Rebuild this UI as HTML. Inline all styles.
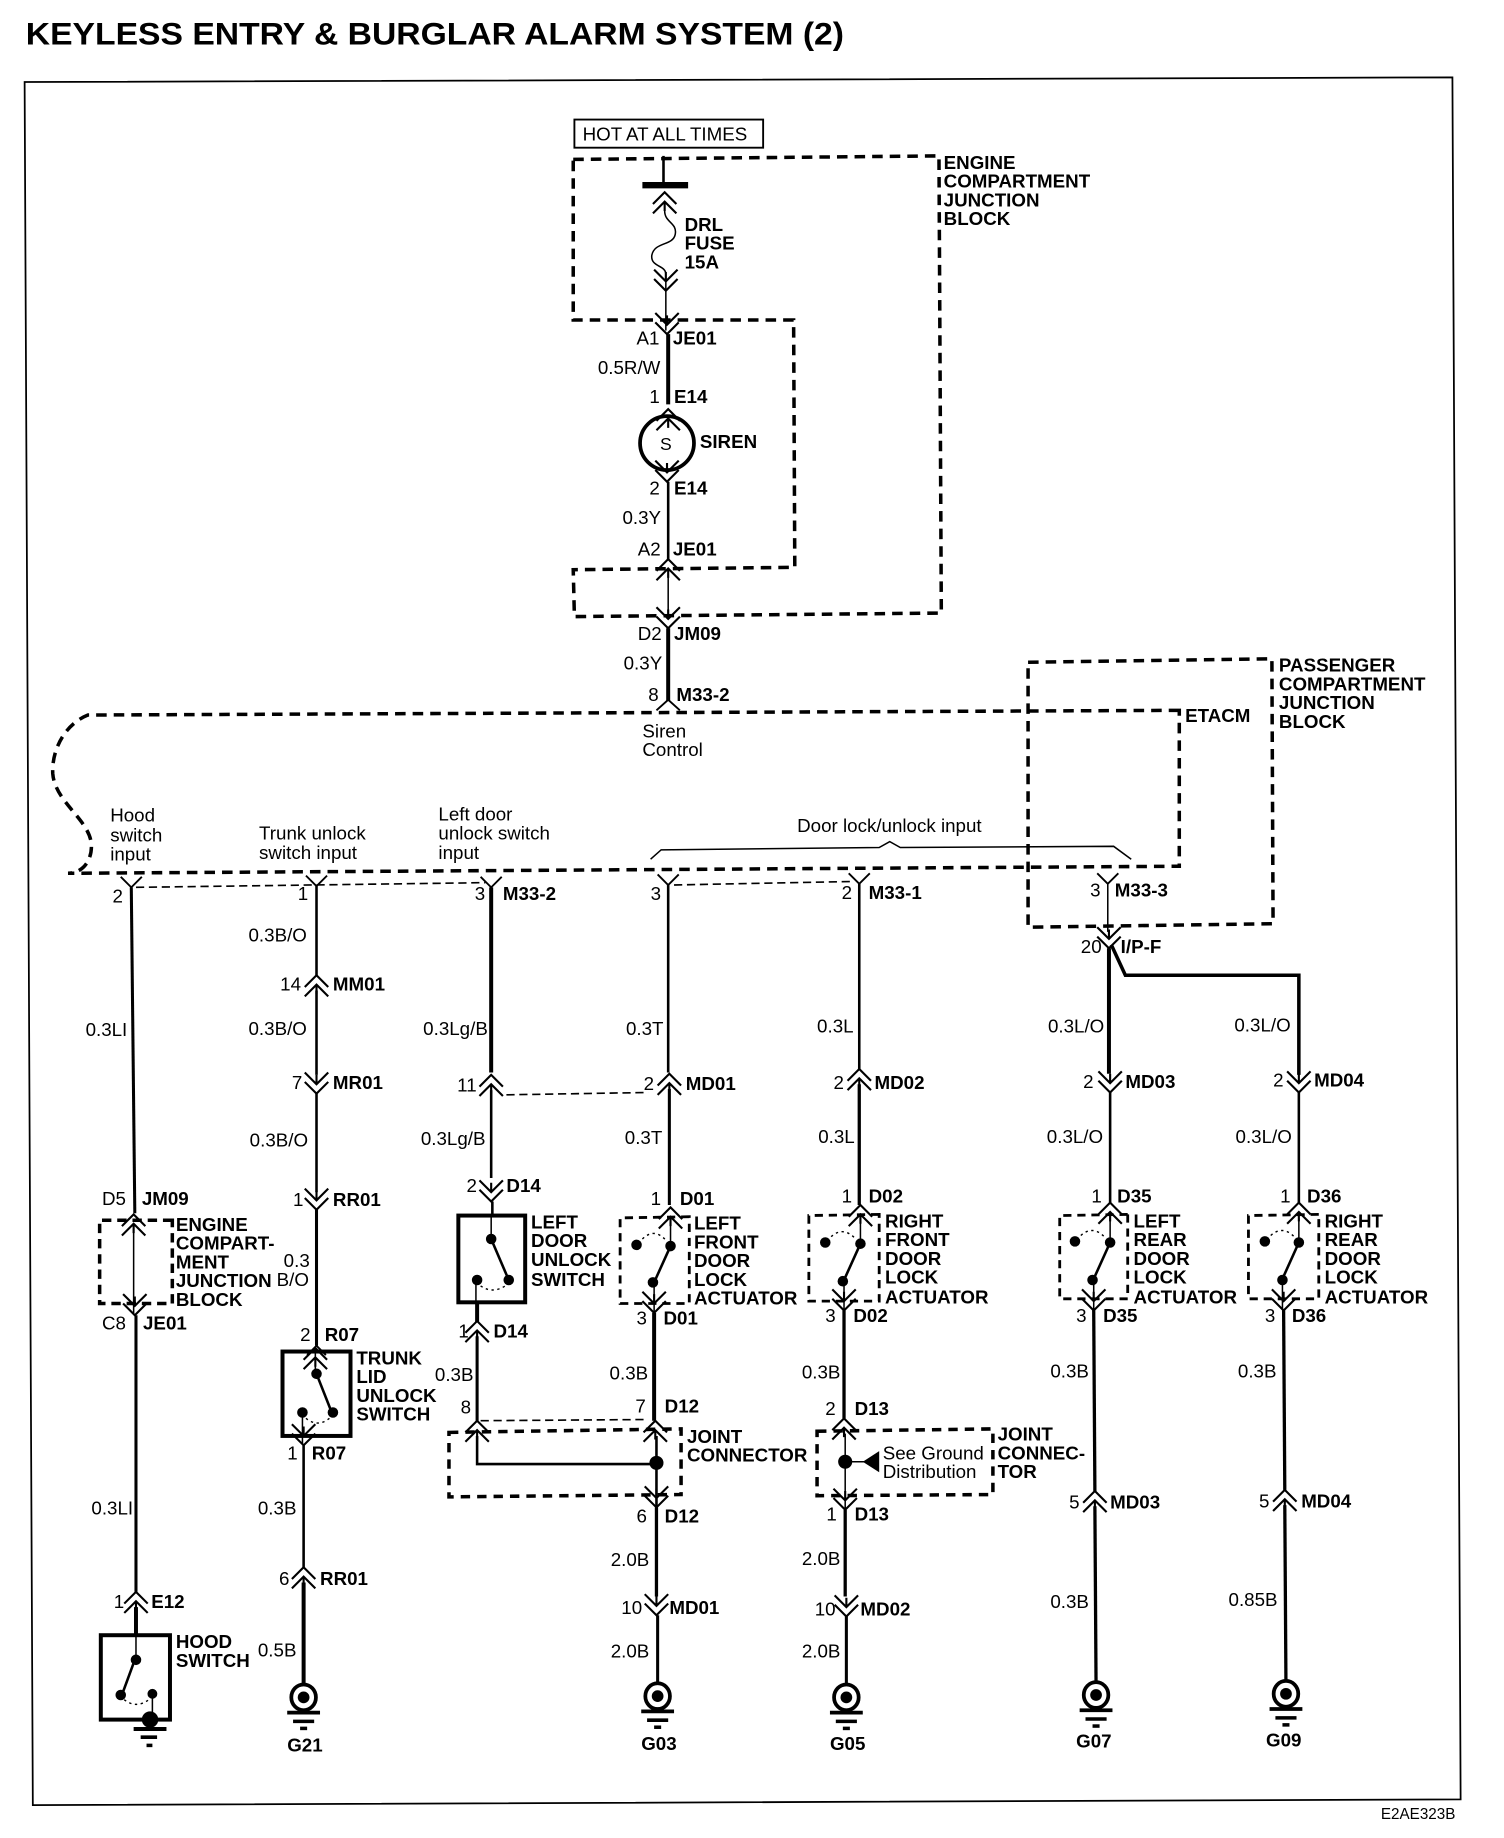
<!DOCTYPE html>
<html>
<head>
<meta charset="utf-8">
<title>Keyless Entry &amp; Burglar Alarm System (2)</title>
<style>
html,body{margin:0;padding:0;background:#fff}
svg{display:block}
text{font-family:"Liberation Sans",sans-serif;font-size:16px;fill:#000}
.b text,text.b{font-weight:bold}
.w{fill:none;stroke:#000;stroke-width:2.2}
.t{fill:none;stroke:#000;stroke-width:3.4}
.n{fill:none;stroke:#000;stroke-width:1.3}
.d{fill:none;stroke:#000;stroke-width:3;stroke-dasharray:9 6}
.f{fill:none;stroke:#000;stroke-width:1.4;stroke-dasharray:7 4}
.a{fill:none;stroke:#000;stroke-width:1.2;stroke-dasharray:2 3}
.bx{fill:none;stroke:#000;stroke-width:3.4}
</style>
</head>
<body>
<svg xmlns="http://www.w3.org/2000/svg" width="1504" height="1838" viewBox="0 0 1283 1568" preserveAspectRatio="none">
<defs>
<g id="u"><path d="M-10 10L0 0L10 10M-10 18L0 8L10 18M0 8V16" fill="none" stroke="#000" stroke-width="1.8"/></g>
<g id="v"><path d="M-10 -10L0 0L10 -10M-10 -18L0 -8L10 -18M0 -8V-16" fill="none" stroke="#000" stroke-width="1.8"/></g>
<g id="c"><path d="M-9 -9L0 0L9 -9" fill="none" stroke="#000" stroke-width="1.6"/></g>
<g id="gnd">
<ellipse cx="0" cy="0" rx="10.5" ry="11" fill="#fff" stroke="#000" stroke-width="3.2"/>
<circle cx="0" cy="0" r="5"/>
<path d="M-14 13H14" stroke="#000" stroke-width="3.2"/>
<path d="M-9 20.5H9" stroke="#000" stroke-width="3"/>
<path d="M-3 26.5H3" stroke="#000" stroke-width="3"/>
</g>
</defs>

<text x="22" y="38" class="b" style="font-size:27px" textLength="698" lengthAdjust="spacingAndGlyphs">KEYLESS ENTRY &amp; BURGLAR ALARM SYSTEM (2)</text>
<path d="M21 70L1239 66L1246 1535L28 1540Z" fill="none" stroke="#000" stroke-width="1.5"/>

<!-- top section -->
<rect x="490" y="102" width="161" height="24" fill="none" stroke="#000" stroke-width="1.6"/>
<text x="497" y="120">HOT AT ALL TIMES</text>
<path class="d" d="M489 136L801 133L803 523L490 526L489 486L678 484L677 273L489 273Z"/>
<path class="w" d="M566 133V158"/>
<path d="M548 158H587" stroke="#000" stroke-width="5.5"/>
<use href="#u" x="567" y="164"/>
<path class="n" d="M567 180C567 190 578 190 576 200C574 210 558 206 556 218C555 228 568 226 568 234V248"/>
<use href="#v" x="568" y="248"/>
<path class="n" d="M568 248V282"/>
<use href="#v" x="569" y="285" />
<path class="t" d="M570 285V345"/>
<use href="#u" x="570" y="349" />
<circle cx="569" cy="378" r="23" fill="none" stroke="#000" stroke-width="3.2"/>
<text x="563" y="384" style="font-size:15px">S</text>
<use href="#v" x="569" y="411"/>
<path class="w" d="M570 411V477"/>
<use href="#u" x="570" y="477"/>
<path class="n" d="M570 490V523"/>
<use href="#v" x="570" y="536"/>
<path class="t" d="M570 536V598"/>
<path d="M560 606L570 597L580 606" fill="none" stroke="#000" stroke-width="1.6"/>

<g class="b">
<text x="805" y="144">ENGINE</text>
<text x="805" y="160">COMPARTMENT</text>
<text x="805" y="176">JUNCTION</text>
<text x="805" y="192">BLOCK</text>
<text x="584" y="197">DRL</text>
<text x="584" y="213">FUSE</text>
<text x="584" y="229">15A</text>
<text x="574" y="294">JE01</text>
<text x="575" y="344">E14</text>
<text x="597" y="382">SIREN</text>
<text x="575" y="422">E14</text>
<text x="574" y="474">JE01</text>
<text x="575" y="546">JM09</text>
<text x="577" y="598">M33-2</text>
<text x="1091" y="573">PASSENGER</text>
<text x="1091" y="589">COMPARTMENT</text>
<text x="1091" y="605">JUNCTION</text>
<text x="1091" y="621">BLOCK</text>
<text x="1011" y="616">ETACM</text>
</g>
<text x="543" y="294">A1</text>
<text x="510" y="319">0.5R/W</text>
<text x="554" y="344">1</text>
<text x="554" y="422">2</text>
<text x="531" y="447">0.3Y</text>
<text x="544" y="474">A2</text>
<text x="544" y="546">D2</text>
<text x="532" y="571">0.3Y</text>
<text x="553" y="598">8</text>
<text x="548" y="629">Siren</text>
<text x="548" y="645">Control</text>

<!-- ETACM & passenger boxes -->
<path class="d" d="M1006 606L75 610C55 618 44 640 45 660C47 685 78 700 78 722C78 735 70 745 58 745L1006 739Z"/>
<path class="d" d="M877 565L1085 562L1086 788L877 791Z"/>

<text x="94" y="701">Hood</text>
<text x="94" y="718">switch</text>
<text x="94" y="734">input</text>
<text x="221" y="716">Trunk unlock</text>
<text x="221" y="733">switch input</text>
<text x="374" y="700">Left door</text>
<text x="374" y="716">unlock switch</text>
<text x="374" y="733">input</text>
<text x="680" y="710">Door lock/unlock input</text>
<path class="n" d="M555 733L564 725L750 723L759 718L768 723L950 722L965 733"/>
<path class="f" d="M116 757L414 753"/>
<path class="f" d="M575 755L726 752"/>
<path class="f" d="M432 934L553 932"/>
<path class="f" d="M410 1212L552 1211"/>

<!-- column 1: hood -->
<use href="#c" x="112" y="757"/>
<path class="t" d="M112 757L115 1035" style="stroke-width:2.6"/>
<use href="#u" x="114" y="1036"/>
<path class="n" d="M114 1049V1121"/>
<path class="d" style="stroke-dasharray:8 5" d="M147 1041L85 1041V1112H147Z"/>
<use href="#v" x="115" y="1122"/>
<path class="t" d="M116 1122L116 1358" style="stroke-width:2.6"/>
<use href="#u" x="116" y="1358"/>
<path class="t" d="M116 1371V1395"/>
<rect class="bx" x="86" y="1395" width="59" height="72"/>
<path class="w" d="M116 1395V1416" style="stroke-width:1.3"/>
<circle cx="116" cy="1416" r="4.5"/>
<path class="w" d="M115 1416L104 1446"/>
<circle cx="103" cy="1446" r="4.5"/>
<circle cx="130" cy="1445" r="4.2"/>
<path class="a" d="M106 1450Q116 1458 127 1450"/>
<path class="n" d="M130 1445V1465"/>
<circle cx="128" cy="1467" r="7"/>
<path d="M114 1475H142" stroke="#000" stroke-width="3.4"/>
<path d="M120 1482H134" stroke="#000" stroke-width="3"/>
<path d="M125 1489H130" stroke="#000" stroke-width="3"/>
<g class="b">
<text x="121" y="1028">JM09</text>
<text x="150" y="1050">ENGINE</text>
<text x="150" y="1066">COMPART-</text>
<text x="150" y="1082">MENT</text>
<text x="150" y="1098">JUNCTION</text>
<text x="150" y="1114">BLOCK</text>
<text x="122" y="1134">JE01</text>
<text x="129" y="1372">E12</text>
<text x="150" y="1406">HOOD</text>
<text x="150" y="1422">SWITCH</text>
</g>
<text x="96" y="770">2</text>
<text x="73" y="884">0.3LI</text>
<text x="87" y="1028">D5</text>
<text x="87" y="1134">C8</text>
<text x="78" y="1292">0.3LI</text>
<text x="97" y="1372">1</text>

<!-- column 2: trunk -->
<use href="#c" x="270" y="756"/>
<path class="w" d="M270 756V832"/>
<use href="#u" x="270" y="832"/>
<path class="w" d="M270 845V917"/>
<use href="#v" x="270" y="933"/>
<path class="w" d="M270 933V1017"/>
<use href="#v" x="270" y="1032"/>
<path class="t" d="M270 1032V1148" style="stroke-width:2.6"/>
<path d="M262 1156L270 1148L278 1156" fill="none" stroke="#000" stroke-width="1.6"/>
<rect class="bx" x="241" y="1153" width="58" height="72"/>
<use href="#u" x="269" y="1150" />
<path class="n" d="M269 1150V1172"/>
<circle cx="270" cy="1172" r="4.5"/>
<path class="w" d="M270 1172L283 1205"/>
<circle cx="284" cy="1205" r="4.5"/>
<circle cx="258" cy="1205" r="4.5"/>
<path class="a" d="M261 1210Q271 1218 281 1210"/>
<path class="n" d="M258 1205V1232"/>
<use href="#v" x="259" y="1233"/>
<path class="w" d="M259 1233V1337"/>
<use href="#u" x="259" y="1337"/>
<path class="t" d="M259 1350V1440"/>
<use href="#gnd" x="259" y="1448"/>
<g class="b">
<text x="284" y="845">MM01</text>
<text x="284" y="929">MR01</text>
<text x="284" y="1029">RR01</text>
<text x="277" y="1144">R07</text>
<text x="304" y="1164">TRUNK</text>
<text x="304" y="1180">LID</text>
<text x="304" y="1196">UNLOCK</text>
<text x="304" y="1212">SWITCH</text>
<text x="266" y="1245">R07</text>
<text x="273" y="1352">RR01</text>
<text x="245" y="1494">G21</text>
</g>
<text x="254" y="768">1</text>
<text x="212" y="803">0.3B/O</text>
<text x="239" y="845">14</text>
<text x="212" y="883">0.3B/O</text>
<text x="249" y="929">7</text>
<text x="213" y="978">0.3B/O</text>
<text x="250" y="1029">1</text>
<text x="242" y="1081">0.3</text>
<text x="236" y="1097">B/O</text>
<text x="256" y="1144">2</text>
<text x="245" y="1245">1</text>
<text x="220" y="1292">0.3B</text>
<text x="238" y="1352">6</text>
<text x="220" y="1413">0.5B</text>

<!-- column 3: left door -->
<use href="#c" x="419" y="757"/>
<path class="t" d="M419 757V915"/>
<use href="#u" x="419" y="917"/>
<path class="w" d="M419 930V1005"/>
<use href="#v" x="419" y="1025"/>
<path class="w" d="M420 1025V1037"/>
<rect class="bx" x="391" y="1037" width="57" height="74"/>
<path class="n" d="M419 1037V1057"/>
<circle cx="419" cy="1057" r="4.5"/>
<path class="w" d="M419 1057L434 1092"/>
<circle cx="434" cy="1092" r="4.5"/>
<circle cx="407" cy="1092" r="4.5"/>
<path class="a" d="M410 1097Q420 1104 431 1097"/>
<path class="n" d="M406 1092V1111"/>
<path class="t" d="M407 1111V1128"/>
<use href="#u" x="407" y="1127"/>
<path class="t" d="M407 1140V1212" style="stroke-width:2.6"/>
<use href="#u" x="407" y="1212"/>
<path class="w" d="M407 1225V1249H560"/>
<path class="d" style="stroke-dasharray:8 6" d="M383 1222L581 1219V1275L383 1277Z"/>
<g class="b">
<text x="429" y="768">M33-2</text>
<text x="432" y="1017">D14</text>
<text x="453" y="1048">LEFT</text>
<text x="453" y="1064">DOOR</text>
<text x="453" y="1080">UNLOCK</text>
<text x="453" y="1097">SWITCH</text>
<text x="421" y="1141">D14</text>
<text x="586" y="1231">JOINT</text>
<text x="586" y="1247">CONNECTOR</text>
</g>
<text x="405" y="768">3</text>
<text x="361" y="883">0.3Lg/B</text>
<text x="390" y="931">11</text>
<text x="359" y="977">0.3Lg/B</text>
<text x="398" y="1017">2</text>
<text x="391" y="1141">1</text>
<text x="371" y="1178">0.3B</text>
<text x="393" y="1206">8</text>

<!-- column 4: left front -->
<use href="#c" x="570" y="755"/>
<path class="w" d="M570 755V915"/>
<use href="#u" x="571" y="916"/>
<path class="t" d="M571 929V1028" style="stroke-width:2.6"/>
<use href="#u" x="572" y="1030"/>
<path class="n" d="M572 1043V1063"/>
<path class="d" style="stroke-dasharray:7 5;stroke-width:2.4" d="M588 1038L529 1039V1112H588Z"/>
<circle cx="572" cy="1063" r="4.5"/>
<circle cx="543" cy="1062" r="4.5"/>
<path class="a" d="M548 1057Q558 1047 568 1058"/>
<path class="w" d="M572 1063L558 1094"/>
<circle cx="557" cy="1094" r="4.5"/>
<path class="n" d="M558 1094V1120"/>
<use href="#v" x="558" y="1120"/>
<path class="t" d="M558 1120V1212"/>
<use href="#u" x="559" y="1212"/>
<path class="w" d="M560 1225V1285"/>
<circle cx="560" cy="1248" r="6"/>
<use href="#v" x="560" y="1286"/>
<path class="t" d="M560 1286V1362" style="stroke-width:2.8"/>
<use href="#v" x="560" y="1378"/>
<path class="t" d="M561 1378V1440" style="stroke-width:2.6"/>
<use href="#gnd" x="561" y="1447"/>
<g class="b">
<text x="585" y="930">MD01</text>
<text x="580" y="1028">D01</text>
<text x="592" y="1049">LEFT</text>
<text x="592" y="1065">FRONT</text>
<text x="592" y="1081">DOOR</text>
<text x="592" y="1097">LOCK</text>
<text x="592" y="1113">ACTUATOR</text>
<text x="566" y="1130">D01</text>
<text x="567" y="1205">D12</text>
<text x="567" y="1299">D12</text>
<text x="571" y="1377">MD01</text>
<text x="547" y="1493">G03</text>
</g>
<text x="555" y="768">3</text>
<text x="534" y="883">0.3T</text>
<text x="549" y="930">2</text>
<text x="533" y="976">0.3T</text>
<text x="555" y="1028">1</text>
<text x="543" y="1130">3</text>
<text x="520" y="1177">0.3B</text>
<text x="542" y="1205">7</text>
<text x="543" y="1299">6</text>
<text x="521" y="1336">2.0B</text>
<text x="530" y="1377">10</text>
<text x="521" y="1414">2.0B</text>

<!-- column 5: right front -->
<use href="#c" x="733" y="754"/>
<path class="w" d="M733 754V912"/>
<use href="#u" x="733" y="912"/>
<path class="t" d="M733 925V1028" style="stroke-width:2.8"/>
<use href="#u" x="734" y="1028"/>
<path class="n" d="M734 1041V1060"/>
<path class="d" style="stroke-dasharray:7 5;stroke-width:2.4" d="M750 1036L690 1037V1110H750Z"/>
<circle cx="734" cy="1061" r="4.5"/>
<circle cx="704" cy="1060" r="4.5"/>
<path class="a" d="M709 1055Q719 1046 729 1056"/>
<path class="w" d="M734 1061L720 1092"/>
<circle cx="719" cy="1093" r="4.5"/>
<path class="n" d="M720 1093V1118"/>
<use href="#v" x="720" y="1118"/>
<path class="t" d="M720 1118V1210" style="stroke-width:2.8"/>
<use href="#u" x="720" y="1210"/>
<path class="n" d="M721 1223V1288"/>
<path class="d" style="stroke-dasharray:8 6" d="M697 1221L847 1219V1275L697 1276Z"/>
<circle cx="721" cy="1247" r="6"/>
<path class="n" d="M721 1247H740"/>
<path d="M736 1247L750 1238V1256Z"/>
<use href="#v" x="721" y="1288"/>
<path class="t" d="M721 1288V1362" style="stroke-width:2.8"/>
<use href="#v" x="722" y="1379"/>
<path class="t" d="M722 1379V1441" style="stroke-width:2.6"/>
<use href="#gnd" x="722" y="1448"/>
<g class="b">
<text x="741" y="767">M33-1</text>
<text x="746" y="929">MD02</text>
<text x="741" y="1026">D02</text>
<text x="755" y="1047">RIGHT</text>
<text x="755" y="1063">FRONT</text>
<text x="755" y="1079">DOOR</text>
<text x="755" y="1095">LOCK</text>
<text x="755" y="1112">ACTUATOR</text>
<text x="728" y="1128">D02</text>
<text x="729" y="1207">D13</text>
<text x="851" y="1229">JOINT</text>
<text x="851" y="1245">CONNEC-</text>
<text x="851" y="1261">TOR</text>
<text x="729" y="1297">D13</text>
<text x="734" y="1378">MD02</text>
<text x="708" y="1493">G05</text>
</g>
<text x="718" y="767">2</text>
<text x="697" y="881">0.3L</text>
<text x="711" y="929">2</text>
<text x="698" y="975">0.3L</text>
<text x="718" y="1026">1</text>
<text x="704" y="1128">3</text>
<text x="684" y="1176">0.3B</text>
<text x="704" y="1207">2</text>
<text x="753" y="1245">See Ground</text>
<text x="753" y="1261">Distribution</text>
<text x="705" y="1297">1</text>
<text x="684" y="1335">2.0B</text>
<text x="695" y="1378">10</text>
<text x="684" y="1414">2.0B</text>

<!-- column 6: left rear -->
<use href="#c" x="945" y="754"/>
<path class="n" d="M945 754V795"/>
<use href="#v" x="946" y="809"/>
<path class="t" d="M946 809V916"/>
<path class="t" d="M948 806L960 832H1108V917" style="stroke-width:3"/>
<use href="#v" x="947" y="932"/>
<path class="w" d="M947 932V1026"/>
<use href="#u" x="947" y="1026"/>
<path class="n" d="M947 1039V1060"/>
<path class="d" style="stroke-dasharray:7 5;stroke-width:2.4" d="M962 1036L904 1037V1108H962Z"/>
<circle cx="947" cy="1060" r="4.5"/>
<circle cx="917" cy="1059" r="4.5"/>
<path class="a" d="M922 1054Q932 1045 942 1055"/>
<path class="w" d="M947 1060L933 1091"/>
<circle cx="932" cy="1092" r="4.5"/>
<path class="n" d="M933 1092V1117"/>
<use href="#v" x="933" y="1118"/>
<path class="t" d="M933 1118L934 1272" style="stroke-width:2.8"/>
<use href="#u" x="934" y="1272"/>
<path class="t" d="M934 1285L935 1438" style="stroke-width:2.8"/>
<use href="#gnd" x="935" y="1446"/>
<g class="b">
<text x="951" y="765">M33-3</text>
<text x="956" y="813">I/P-F</text>
<text x="960" y="928">MD03</text>
<text x="953" y="1026">D35</text>
<text x="967" y="1047">LEFT</text>
<text x="967" y="1063">REAR</text>
<text x="967" y="1079">DOOR</text>
<text x="967" y="1095">LOCK</text>
<text x="967" y="1112">ACTUATOR</text>
<text x="941" y="1128">D35</text>
<text x="947" y="1287">MD03</text>
<text x="918" y="1491">G07</text>
</g>
<text x="930" y="765">3</text>
<text x="922" y="813">20</text>
<text x="894" y="881">0.3L/O</text>
<text x="924" y="928">2</text>
<text x="893" y="975">0.3L/O</text>
<text x="931" y="1026">1</text>
<text x="918" y="1128">3</text>
<text x="896" y="1175">0.3B</text>
<text x="912" y="1287">5</text>
<text x="896" y="1372">0.3B</text>

<!-- column 7: right rear -->
<use href="#v" x="1108" y="932"/>
<path class="w" d="M1108 932V1026"/>
<use href="#u" x="1108" y="1026"/>
<path class="n" d="M1108 1039V1060"/>
<path class="d" style="stroke-dasharray:7 5;stroke-width:2.4" d="M1125 1036L1065 1037V1108H1125Z"/>
<circle cx="1108" cy="1060" r="4.5"/>
<circle cx="1079" cy="1059" r="4.5"/>
<path class="a" d="M1084 1054Q1094 1045 1104 1055"/>
<path class="w" d="M1108 1060L1094 1091"/>
<circle cx="1094" cy="1092" r="4.5"/>
<path class="n" d="M1094 1092V1117"/>
<use href="#v" x="1095" y="1118"/>
<path class="t" d="M1095 1118L1096 1271" style="stroke-width:2.8"/>
<use href="#u" x="1096" y="1271"/>
<path class="t" d="M1096 1284L1097 1438" style="stroke-width:2.8"/>
<use href="#gnd" x="1097" y="1445"/>
<g class="b">
<text x="1121" y="927">MD04</text>
<text x="1115" y="1026">D36</text>
<text x="1130" y="1047">RIGHT</text>
<text x="1130" y="1063">REAR</text>
<text x="1130" y="1079">DOOR</text>
<text x="1130" y="1095">LOCK</text>
<text x="1130" y="1112">ACTUATOR</text>
<text x="1102" y="1128">D36</text>
<text x="1110" y="1286">MD04</text>
<text x="1080" y="1490">G09</text>
</g>
<text x="1053" y="880">0.3L/O</text>
<text x="1086" y="927">2</text>
<text x="1054" y="975">0.3L/O</text>
<text x="1092" y="1026">1</text>
<text x="1079" y="1128">3</text>
<text x="1056" y="1175">0.3B</text>
<text x="1074" y="1286">5</text>
<text x="1048" y="1370">0.85B</text>

<text x="1178" y="1552" style="font-size:13px">E2AE323B</text>
</svg>
</body>
</html>
